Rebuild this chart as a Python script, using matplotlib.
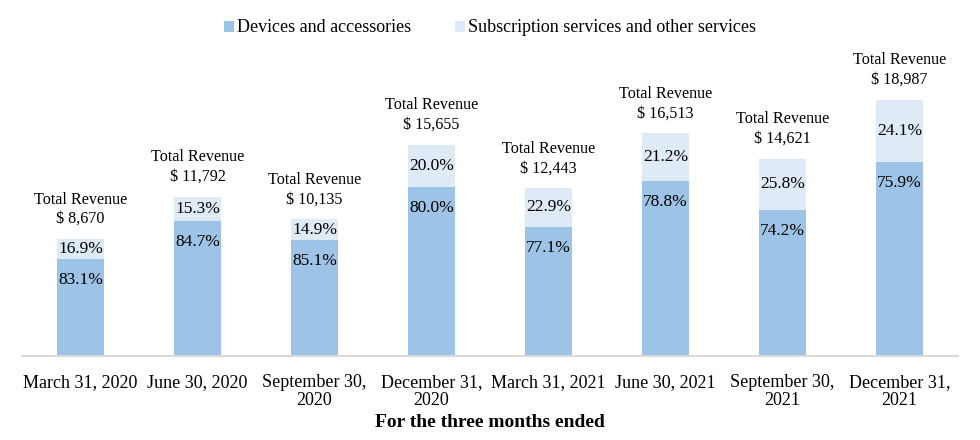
import numpy as np
import matplotlib
matplotlib.use("Agg")
import matplotlib.pyplot as plt
from matplotlib.patches import Patch

plt.rcParams['font.family'] = ['Liberation Serif', 'DejaVu Serif']

# data
quarters = ['March 31, 2020', 'June 30, 2020', 'September 30,\n2020', 'December 31,\n2020',
            'March 31, 2021', 'June 30, 2021', 'September 30,\n2021', 'December 31,\n2021']
total_revenue = [8670, 11792, 10135, 15655, 12443, 16513, 14621, 18987]
devices_pct = [83.1, 84.7, 85.1, 80.0, 77.1, 78.8, 74.2, 75.9]
subscription_pct = [16.9, 15.3, 14.9, 20.0, 22.9, 21.2, 25.8, 24.1]

dark_blue = '#9DC3E6'
light_blue = '#DEEBF7'

total = np.array(total_revenue, dtype=float)
dev = total * np.array(devices_pct) / 100.0
sub = total - dev

fig = plt.figure(figsize=(9.8, 4.4), dpi=100)
ax = fig.add_axes([22/980, 1 - 356/440, (958 - 22)/980, (356 - 40)/440])

x = np.arange(len(quarters))
ax.bar(x, dev, width=0.4, color=dark_blue)
ax.bar(x, sub, width=0.4, bottom=dev, color=light_blue)

ymax = 18987 * 316 / 256.0
ax.set_ylim(0, ymax)
ax.set_xlim(-0.5, len(quarters) - 0.5)
px = ymax / 316.0  # data units per pixel

for i in range(len(quarters)):
    ax.text(x[i], dev[i] - 21 * px, '%.1f%%' % devices_pct[i], ha='center', va='center', fontsize=12.5)
    ax.text(x[i], dev[i] + sub[i] / 2.0, '%.1f%%' % subscription_pct[i], ha='center', va='center', fontsize=12.5)
    ax.text(x[i], total[i] + 12 * px, 'Total Revenue\n$ {:,}'.format(total_revenue[i]),
            ha='center', va='bottom', fontsize=11.6, linespacing=1.3)

for s in ['top', 'right', 'left']:
    ax.spines[s].set_visible(False)
ax.spines['bottom'].set_color('#D9D9D9')
ax.spines['bottom'].set_linewidth(1.5)
ax.set_yticks([])
ax.set_xticks(x)
ax.set_xticklabels(quarters, fontsize=13, linespacing=1.05)
ax.tick_params(axis='x', length=0, pad=13)
ax.set_xlabel('For the three months ended', fontsize=14, fontweight='bold', labelpad=4)

handles = [Patch(facecolor=dark_blue, edgecolor='none'), Patch(facecolor=light_blue, edgecolor='none')]
fig.legend(handles, ['Devices and accessories', 'Subscription services and other services'],
           loc='center', bbox_to_anchor=(0.5, 1 - 28/440), ncol=2, frameon=False, fontsize=13,
           handlelength=0.55, handleheight=0.55, handletextpad=0.2, columnspacing=2.4)

fig.savefig('out.png', dpi=100)
